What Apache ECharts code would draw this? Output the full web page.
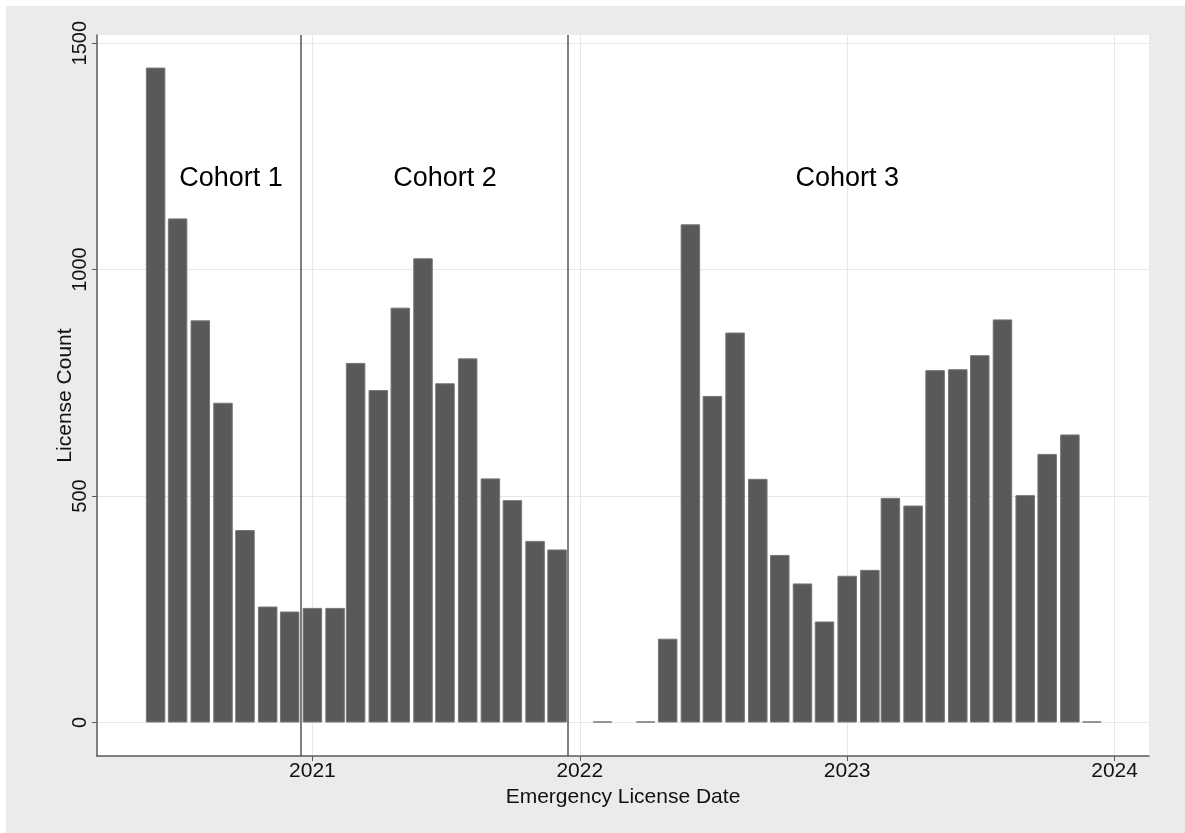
<!DOCTYPE html>
<html><head><meta charset="utf-8">
<script src="https://cdn.jsdelivr.net/npm/echarts@6/dist/echarts.min.js"></script>
<style>
html,body{margin:0;padding:0;background:#ffffff;}
#c{position:absolute;left:6px;top:6px;width:1179px;height:827px;background:#ebebeb;}
</style>
</head><body><div id="c"></div>
<script>
// ---- data ----
const months = [
  '2020-06-01','2020-07-01','2020-08-01','2020-09-01','2020-10-01','2020-11-01','2020-12-01',
  '2021-01-01','2021-02-01','2021-03-01','2021-04-01','2021-05-01','2021-06-01',
  '2021-07-01','2021-08-01','2021-09-01','2021-10-01','2021-11-01','2021-12-01',
  '2022-02-01','2022-04-01','2022-05-01','2022-06-01','2022-07-01','2022-08-01',
  '2022-09-01','2022-10-01','2022-11-01','2022-12-01','2023-01-01','2023-02-01',
  '2023-03-01','2023-04-01','2023-05-01','2023-06-01','2023-07-01','2023-08-01',
  '2023-09-01','2023-10-01','2023-11-01','2023-12-01'
];
const counts = [
  1446, 1113, 888, 706, 425, 256, 245,
  253, 253, 794, 734, 916, 1025,
  749, 804, 539, 491, 401, 382,
  0, 0, 185, 1100, 721, 861,
  538, 370, 307, 223, 324, 337,
  496, 479, 778, 780, 811, 890,
  502, 593, 636, 0
];
const yTicks = [0, 500, 1000, 1500];
const yTickLabels = ['0', '500', '1000', '1500'];
const xTicks = ['2021-01-01', '2022-01-01', '2023-01-01', '2024-01-01'];
const xTickLabels = ['2021', '2022', '2023', '2024'];
const cohortNames = ['Cohort 1', 'Cohort 2', 'Cohort 3'];
const cohortLabelDates = ['2020-09-12', '2021-07-01', '2023-01-01'];
const cohortLabelY = [1200, 1200, 1200];
const cohortBreaks = ['2020-12-16', '2021-12-16'];
const xName = 'Emergency License Date';
const yName = 'License Count';

// ---- chart ----
const FONT = 'Liberation Sans, Arial, sans-serif';
const ts = s => Date.UTC(+s.slice(0, 4), +s.slice(5, 7) - 1, +s.slice(8, 10));
const xTickTs = xTicks.map(ts);
const chart = echarts.init(document.getElementById('c'));
chart.setOption({
  backgroundColor: '#ebebeb',
  animation: false,
  grid: {
    left: 91, right: 36, top: 29, bottom: 77,
    show: true, backgroundColor: '#ffffff', borderWidth: 0,
    containLabel: false, outerBoundsMode: 'none'
  },
  xAxis: {
    type: 'value',
    min: ts('2020-03-13'),
    max: ts('2024-02-17'),
    name: xName,
    nameLocation: 'middle',
    nameGap: 31,
    nameMoveOverlap: false,
    nameTextStyle: { fontSize: 21, color: '#111111', fontFamily: FONT },
    axisLine: { show: true, onZero: false, lineStyle: { color: '#5a5a5a', width: 1.5 } },
    axisTick: { show: true, length: 5, customValues: xTickTs, lineStyle: { color: '#5a5a5a', width: 1 } },
    axisLabel: {
      customValues: xTickTs,
      formatter: v => xTickLabels[xTickTs.indexOf(v)] || '',
      fontSize: 21, color: '#111111', fontFamily: FONT, margin: 5
    },
    splitLine: { show: true, lineStyle: { color: '#e8e8e8', width: 1 } }
  },
  yAxis: {
    type: 'value',
    min: -74,
    max: 1518,
    name: yName,
    nameLocation: 'middle',
    nameGap: 21,
    nameMoveOverlap: false,
    nameTextStyle: { fontSize: 21, color: '#111111', fontFamily: FONT },
    axisLine: { show: true, onZero: false, lineStyle: { color: '#5a5a5a', width: 1.5 } },
    axisTick: { show: true, length: 5, customValues: yTicks, lineStyle: { color: '#5a5a5a', width: 1 } },
    axisLabel: {
      customValues: yTicks,
      formatter: v => yTickLabels[yTicks.indexOf(v)] || String(v),
      rotate: 90,
      fontSize: 20, color: '#111111', fontFamily: FONT, margin: 7
    },
    splitLine: { show: true, lineStyle: { color: '#e8e8e8', width: 1 } }
  },
  series: [
    {
      type: 'bar',
      data: months.map((m, i) => [ts(m), counts[i]]),
      barWidth: 19.5,
      barMinHeight: 1,
      itemStyle: { color: '#595959', borderColor: '#767676', borderWidth: 1 },
      markLine: {
        silent: true,
        symbol: 'none',
        label: { show: false },
        lineStyle: { color: '#555555', width: 1.5, type: 'solid' },
        data: cohortBreaks.map(d => ({ xAxis: ts(d) }))
      }
    },
    {
      type: 'scatter',
      symbolSize: 0,
      silent: true,
      data: cohortLabelDates.map((d, i) => [ts(d), cohortLabelY[i], cohortNames[i]]),
      label: {
        show: true, position: 'inside',
        formatter: p => p.data[2],
        fontSize: 27, color: '#000000', opacity: 1, fontFamily: FONT
      }
    }
  ]
});
</script>
</body></html>
